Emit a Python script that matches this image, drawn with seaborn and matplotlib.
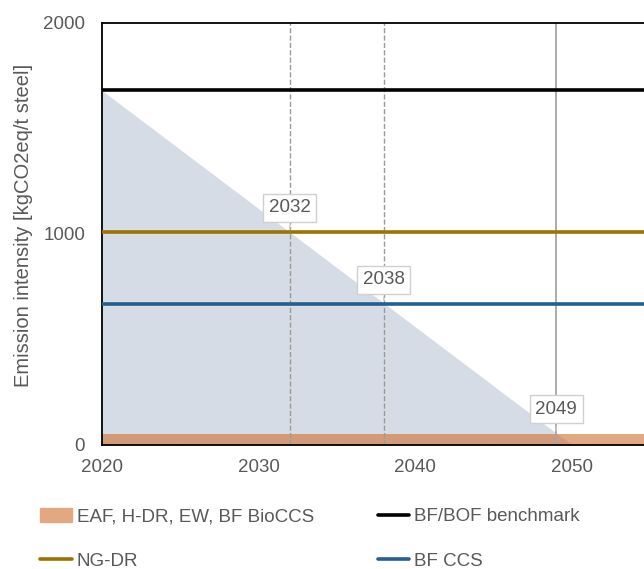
import numpy as np
import pandas as pd
import matplotlib
matplotlib.use('Agg')
import matplotlib.pyplot as plt
import seaborn as sns
from matplotlib.lines import Line2D
from matplotlib.patches import Patch

# ── data ──
years = [2020, 2055]
benchmark = [1680, 1680]     # BF/BOF benchmark
ng_dr = [1010, 1010]         # NG-DR
bf_ccs = [670, 670]          # BF CCS
low_band = [50, 50]          # EAF, H-DR, EW, BF BioCCS (0 .. 50)

path_years = [2020, 2050]    # linear decline of the benchmark
path_values = [1680, 0]

cross_years = [2032, 2038, 2049]
cross_values = [1010, 670, 56]
cross_styles = ['--', '--', '-']

sns.set_theme(style='white')
plt.rcParams['font.family'] = ['Liberation Sans', 'DejaVu Sans']

text_col = '#595959'
c_black, c_gold, c_blue = '#000000', '#9c7200', '#255e91'
c_band, c_fill = '#d06e2f', '#d6dce5'

fig = plt.figure(figsize=(6.44, 5.69), dpi=100)
ax = fig.add_axes([0.158, 0.218, 0.842, 0.742])

# shaded decline area
ax.fill_between(path_years, path_values, 0, color=c_fill, lw=0, zorder=1)
# low emission band (semi-transparent, darker where it overlaps the shaded area)
ax.fill_between(years, low_band, 0, color=c_band, alpha=0.6, lw=0, zorder=2)

df = pd.DataFrame({'year': years * 3,
                   'value': benchmark + ng_dr + bf_ccs,
                   'route': ['BF/BOF benchmark'] * 2 + ['NG-DR'] * 2 + ['BF CCS'] * 2})
sns.lineplot(data=df, x='year', y='value', hue='route', ax=ax, lw=2.6,
             palette={'BF/BOF benchmark': c_black, 'NG-DR': c_gold, 'BF CCS': c_blue},
             legend=False, zorder=3)

for yr, val, ls in zip(cross_years, cross_values, cross_styles):
    ax.axvline(yr, color='#9a9a9a' if ls == '--' else '#a6a6a6', ls=ls,
               lw=1.0 if ls == '--' else 1.3, zorder=2.5)
    ax.annotate(str(yr), xy=(yr, val), xytext=(0, 11), textcoords='offset points',
                ha='center', va='bottom', fontsize=13.5, color=text_col, zorder=5,
                bbox=dict(boxstyle='square,pad=0.3', fc='white', ec='#d0d0d0', lw=1),
                arrowprops=dict(arrowstyle='-', color='#c8c8c8', lw=1))

ax.set_xlim(2020, 2054.6)
ax.set_ylim(0, 2000)
ax.set_xticks([2020, 2030, 2040, 2050])
ax.set_xticks([2025, 2035, 2045], minor=True)
ax.set_yticks([0, 1000, 2000])
ax.tick_params(axis='x', which='major', direction='out', length=5, width=1,
               colors='black', labelcolor=text_col, labelsize=13.5, pad=5)
ax.tick_params(axis='x', which='minor', direction='in', length=5, width=1,
               colors='black', bottom=True)
ax.tick_params(axis='y', length=0, labelcolor=text_col, labelsize=13.5, pad=12)
ax.set_xlabel('')
ax.set_ylabel('Emission intensity [kgCO2eq/t steel]', color=text_col, fontsize=14.5)
ax.yaxis.set_label_coords(-0.127, 0.52)

for side in ['left', 'bottom', 'top']:
    ax.spines[side].set_color('black')
    ax.spines[side].set_linewidth(1.3)
ax.spines['right'].set_visible(False)
ax.grid(False)

handles = [Patch(color='#e3a882', label='EAF, H-DR, EW, BF BioCCS'),
           Line2D([], [], color=c_gold, lw=2.6, label='NG-DR'),
           Line2D([], [], color=c_black, lw=2.6, label='BF/BOF benchmark'),
           Line2D([], [], color=c_blue, lw=2.6, label='BF CCS')]
fig.legend(handles=handles, ncol=2, loc='lower left', bbox_to_anchor=(0.036, -0.031),
           frameon=False, fontsize=13.5, labelcolor=text_col, handlelength=1.7,
           handletextpad=0.25, columnspacing=3.4, labelspacing=1.42, handleheight=0.8)

fig.savefig('out.png', dpi=100)
